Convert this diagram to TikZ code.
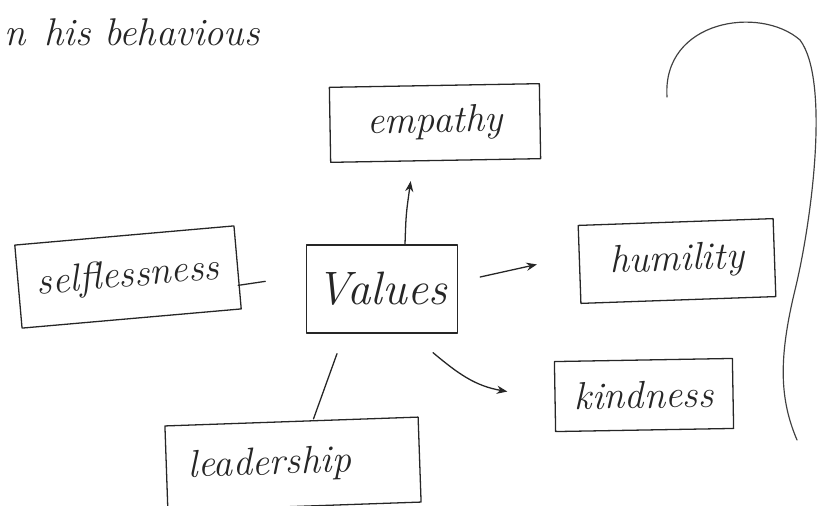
\documentclass[tikz,border=0pt]{standalone}
\usetikzlibrary{calc,arrows.meta}
\begin{document}
\begin{tikzpicture}[x=0.03cm,y=0.03cm,
  ink/.style={draw=black!85,line width=1.1pt,line cap=round,line join=round},
  hand/.style={font=\fontsize{33}{35}\selectfont\itshape,text=black!85},
  big/.style={font=\fontsize{40}{42}\selectfont\itshape},
  box/.style={ink,hand,rectangle,inner sep=0pt},
  arr/.style={ink,-{Stealth[length=9pt,width=7pt]}}]
\useasboundingbox (0,0) rectangle (817,-505);
% heading
\node[hand,anchor=base west] (head0) at (0,-45) {n};
\node[hand,anchor=base west] (head) at (40,-45) {his behavious};
% nodes
\node[box,minimum width=6.3cm,minimum height=2.25cm,rotate=1] (emp) at (435,-123) {empathy};
\node[box,big,minimum width=4.53cm,minimum height=2.64cm] (val) at (382,-289) {Values};
\node[box,minimum width=6.6cm,minimum height=2.5cm,rotate=5] (sel) at (128,-277) {selflessness};
\node[box,minimum width=5.85cm,minimum height=2.34cm,rotate=2] (hum) at (677,-261) {humility};
\node[box,minimum width=5.34cm,minimum height=2.1cm,rotate=1] (kin) at (644,-395) {kindness};
\node[box,minimum width=7.6cm,minimum height=2.55cm,rotate=2] (lea) at (293,-464) {leadership\kern1.4cm\relax};
% connectors
\draw[arr] ($(val.north)+(23,0)$) .. controls ($(val.north)+(24,30)$) .. ($(emp.south)+(-25,-20)$);
\draw[arr] ($(val.east)+(22,12)$) -- ($(hum.west)+(-42,0)$);
\draw[arr] ($(val.south)+(51,-19)$) to[out=-40,in=170] ($(kin.west)+(-47,5)$);
\draw[ink] ($(lea.north)+(22,2)$) -- ($(val.south)+(-45,-20)$);
\draw[ink] ($(sel.east)+(0,-18)$) -- ++(27,4);
% right brace-like curve
\coordinate (c0) at (667,-97);
\coordinate (c1) at (797,-440);
\draw[draw=black!75,line width=1pt,line cap=round] (c0) .. controls (662,-20) and (760,-5) .. (800,-40)
  .. controls (830,-80) and (812,-220) .. (795,-290)
  .. controls (778,-360) and (780,-400) .. (c1);
\end{tikzpicture}
\end{document}
